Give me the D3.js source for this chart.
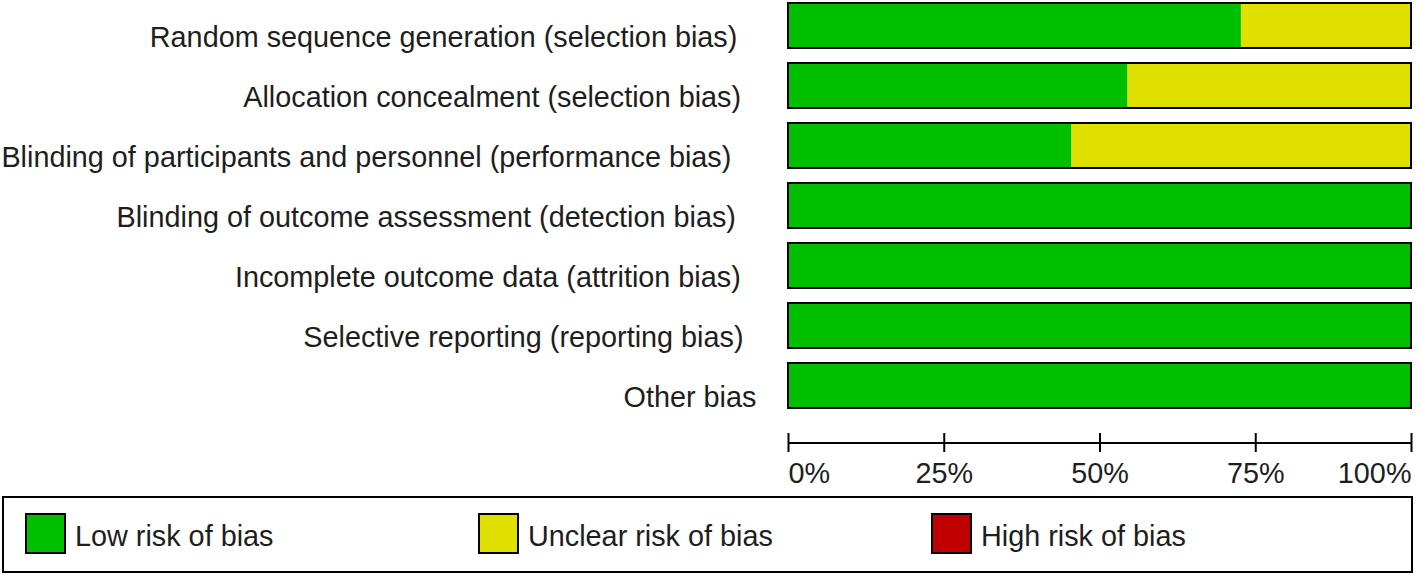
<!DOCTYPE html>
<html>
<head>
<meta charset="utf-8">
<script src="https://d3js.org/d3.v7.min.js"></script>
<style>
  html, body { margin: 0; padding: 0; background: #fff; }
  svg { display: block; }
</style>
</head>
<body>
<svg id="chart" width="1418" height="575"></svg>
<script>
const categories = [
  "Random sequence generation (selection bias)",
  "Allocation concealment (selection bias)",
  "Blinding of participants and personnel (performance bias)",
  "Blinding of outcome assessment (detection bias)",
  "Incomplete outcome data (attrition bias)",
  "Selective reporting (reporting bias)",
  "Other bias"
];
const lowRisk     = [72.7, 54.5, 45.5, 100, 100, 100, 100];
const unclearRisk = [27.3, 45.5, 54.5, 0, 0, 0, 0];
const highRisk    = [0, 0, 0, 0, 0, 0, 0];
const tickValues  = [0, 25, 50, 75, 100];
const tickLabels  = ["0%", "25%", "50%", "75%", "100%"];
const legendLabels = ["Low risk of bias", "Unclear risk of bias", "High risk of bias"];
const colors = ["#00bf00", "#e0e000", "#c00000"];

const svg = d3.select("#chart");
const FONT = "'Liberation Sans', Arial, sans-serif";
const FS = 28.8;
const textColor = "#1e1e1e";

const x = d3.scaleLinear().domain([0, 100]).range([788, 1411]);
const y = d3.scaleBand().domain(categories).range([3, 408]).paddingInner(0.25).paddingOuter(0);

const rows = categories.map((c, i) => ({
  cat: c,
  segs: [
    { k: 0, x0: 0, x1: lowRisk[i] },
    { k: 1, x0: lowRisk[i], x1: lowRisk[i] + unclearRisk[i] },
    { k: 2, x0: lowRisk[i] + unclearRisk[i], x1: lowRisk[i] + unclearRisk[i] + highRisk[i] }
  ]
}));

const g = svg.append("g");
const row = g.selectAll("g.row").data(rows).join("g").attr("class", "row");

row.selectAll("rect.seg").data(d => d.segs.filter(s => s.x1 > s.x0).map(s => ({...s, cat: d.cat})))
  .join("rect").attr("class", "seg")
  .attr("x", s => x(s.x0)).attr("width", s => x(s.x1) - x(s.x0))
  .attr("y", s => y(s.cat)).attr("height", y.bandwidth())
  .attr("fill", s => colors[s.k]);

row.append("rect")
  .attr("x", x(0)).attr("width", x(100) - x(0))
  .attr("y", d => y(d.cat)).attr("height", y.bandwidth())
  .attr("fill", "none").attr("stroke", "#000").attr("stroke-width", 2);

// Labels: laid out to the left of the bars (start position from a slightly wider layout width, as in the original)
const labelRight = x(0) - 26;
row.append("text")
  .attr("y", d => y(d.cat) + y.bandwidth() - 1)
  .attr("font-family", FONT).attr("font-size", FS).attr("fill", textColor)
  .text(d => d.cat)
  .each(function() {
    const w = this.getComputedTextLength();
    d3.select(this).attr("x", labelRight - w * 1.042);
  });

// Axis
const axisG = svg.append("g").attr("transform", "translate(0,443)");
const axis = d3.axisBottom(x).tickValues(tickValues).tickSize(0).tickFormat((d, i) => tickLabels[i]);
axisG.call(axis);
axisG.select(".domain").attr("stroke", "#000").attr("stroke-width", 2).attr("d", `M${x(0)},0H${x(100)}`);
axisG.selectAll(".tick line").remove();
axisG.selectAll(".tick").append("line")
  .attr("y1", -10).attr("y2", 9).attr("stroke", "#000").attr("stroke-width", 2);
axisG.selectAll(".tick text")
  .attr("y", 40).attr("dy", 0)
  .attr("font-family", FONT).attr("font-size", FS).attr("fill", textColor)
  .attr("text-anchor", (d, i) => i === 0 ? "start" : (i === tickValues.length - 1 ? "end" : "middle"));

// Legend
const legend = svg.append("g");
legend.append("rect")
  .attr("x", 3).attr("y", 497).attr("width", 1409).attr("height", 75)
  .attr("fill", "#fff").attr("stroke", "#000").attr("stroke-width", 2);
const legendX = d3.scalePoint().domain(legendLabels).range([26, 932]);
const li = legend.selectAll("g.li").data(legendLabels).join("g").attr("class", "li")
  .attr("transform", d => `translate(${legendX(d)},514)`);
li.append("rect").attr("width", 39).attr("height", 39)
  .attr("fill", (d, i) => colors[i]).attr("stroke", "#000").attr("stroke-width", 2);
li.append("text").attr("x", 49).attr("y", 32)
  .attr("font-family", FONT).attr("font-size", FS).attr("fill", textColor)
  .text(d => d);
</script>
</body>
</html>
